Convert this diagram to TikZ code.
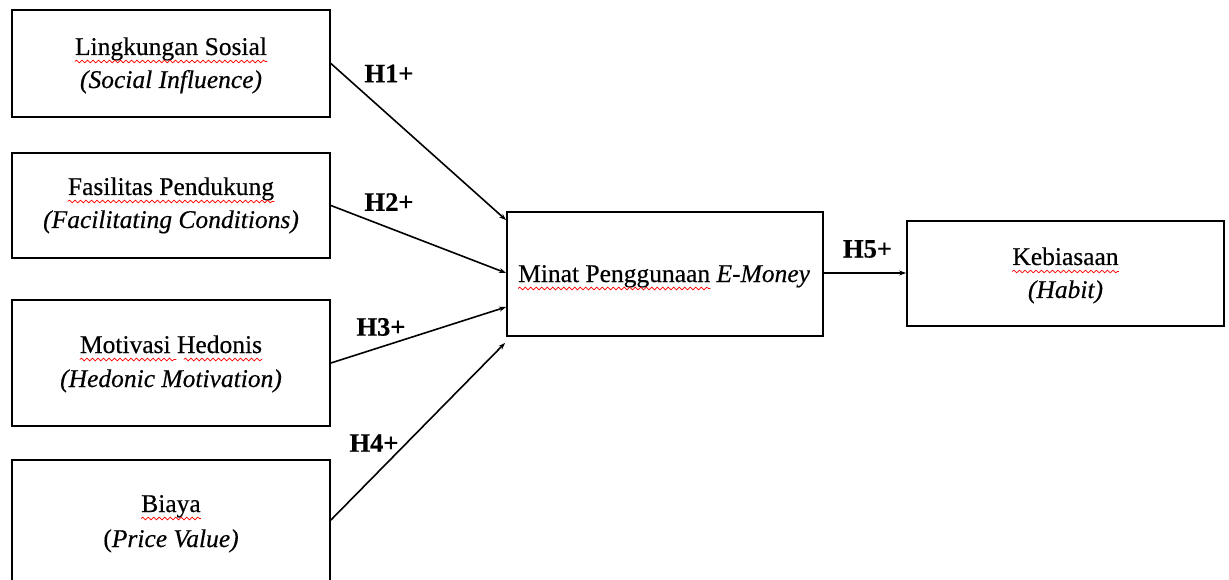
\documentclass[tikz,border=0pt]{standalone}
\usepackage{fontspec}
\setmainfont{Liberation Serif}[FakeBold=0.4]
\usetikzlibrary{arrows.meta,calc,decorations.pathmorphing}
\tikzset{
  box/.style={draw, line width=1.8pt, inner sep=0pt},
  txt/.style={anchor=base, inner sep=0pt, font=\fontsize{25.5}{25.5}\selectfont},
  hyp/.style={font=\bfseries\fontsize{26.5}{26.5}\selectfont, inner sep=0pt},
  arr/.style={line width=1.6pt, -{Stealth[length=7pt,width=5pt]}},
  wave/.style={draw=red, line width=0.7pt, decorate, decoration={snake, segment length=5.5pt, amplitude=1.3pt}}
}
\newcommand\wv[3][6.5]{\path[wave] ($(#2)+(0,#1)$) -- ($(#3)+(0,#1)$);}
\begin{document}
\begin{tikzpicture}[x=1pt,y=-1pt]
\useasboundingbox (0,0) rectangle (1229,580);
% boxes
\node[box, minimum width=318pt, minimum height=107pt] (b1) at (171,63.5) {};
\node[box, minimum width=318pt, minimum height=105pt] (b2) at (171,205.5) {};
\node[box, minimum width=318pt, minimum height=126pt] (b3) at (171,363) {};
\node[box, minimum width=318pt, minimum height=130pt] (b4) at (171,525) {};
\node[box, minimum width=316pt, minimum height=124pt] (m) at (665,274) {};
\node[box, minimum width=317pt, minimum height=105pt] (h) at (1065.5,273.5) {};
% texts
\node[txt] (t1a) at (171,55) {Lingkungan Sosial};
\node[txt] (t1b) at (171,88) {\itshape (Social Influence)};
\node[txt] (t2a) at (171,195) {Fasilitas Pendukung};
\node[txt] (t2b) at (171,228) {\itshape (Facilitating Conditions)};
\node[txt] (t3a) at (171,353) {Motivasi Hedonis};
\node[txt] (t3b) at (171,387) {\itshape (Hedonic Motivation)};
\node[txt] (t4a) at (171,512) {Biaya};
\node[txt] (t4b) at (171,547) {(\textit{Price Value)}};
\node[txt, anchor=base west] (tma) at (518,282) {Minat Penggunaan};
\node[txt, anchor=base west] (tmb) at ($(tma.base east)+(6,0)$) {\itshape E-Money};
\node[txt] (tha) at (1065.5,265) {Kebiasaan};
\node[txt] (thb) at (1065.5,298) {\itshape (Habit)};
% spell-check waves
\wv{t1a.base west}{t1a.base east}
\wv{t2a.base west}{t2a.base east}
\wv{t3a.base west}{$(t3a.base west)!0.53!(t3a.base east)$}
\wv{$(t3a.base west)!0.57!(t3a.base east)$}{t3a.base east}
\wv{t4a.base west}{t4a.base east}
\wv{tma.base west}{tma.base east}
\wv{tha.base west}{tha.base east}
% connectors
\draw[arr] (b1.east) -- ($(m.north west)+(0,9)$);
\draw[arr] (b2.east) -- ($(m.west)+(0,-1)$);
\draw[arr] (b3.east) -- ($(m.west)+(0,33)$);
\draw[arr] ($(b4.east)+(0,-5)$) -- ($(m.south west)+(-1,6)$);
\draw[arr] ($(m.east)+(0,-1)$) -- ($(m.east -| h.west)+(0,-1)$);
% labels
\node[hyp] (l1) at (389,73.5) {H1+};
\node[hyp] (l2) at (389,202) {H2+};
\node[hyp] (l3) at (381,327) {H3+};
\node[hyp] (l4) at (374,443) {H4+};
\node[hyp] (l5) at (867.5,249) {H5+};
\end{tikzpicture}
\end{document}
